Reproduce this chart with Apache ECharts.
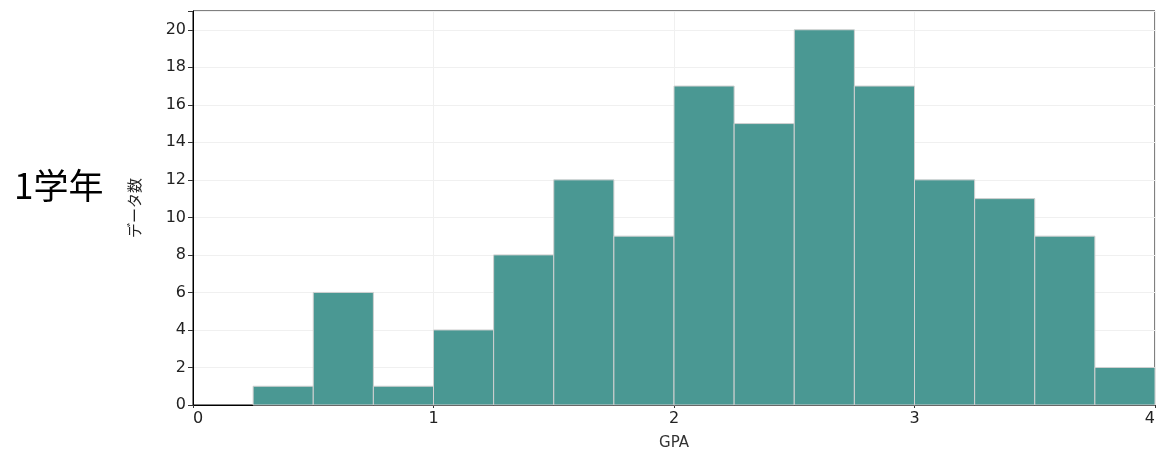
<!DOCTYPE html>
<html>
<head>
<meta charset="utf-8">
<script src="https://cdn.jsdelivr.net/npm/echarts@6/dist/echarts.min.js"></script>
<style>html,body{margin:0;padding:0;background:#fff;}#c{width:1158px;height:453px;}</style>
</head>
<body>
<div id="c"></div>
<script>
const binStarts = [0.25, 0.5, 0.75, 1.0, 1.25, 1.5, 1.75, 2.0, 2.25, 2.5, 2.75, 3.0, 3.25, 3.5, 3.75];
const binWidth = 0.25;
const counts = [1, 6, 1, 4, 8, 12, 9, 17, 15, 20, 17, 12, 11, 9, 2];
const panelLabel = '1学年';
const xName = 'GPA';
const yName = 'データ数';

const data = binStarts.map((s, i) => [s, s + binWidth, counts[i]]);
const chart = echarts.init(document.getElementById('c'), null, {renderer: 'canvas'});
const labelFont = 'DejaVu Sans';
chart.setOption({
  animation: false,
  backgroundColor: '#fff',
  title: {
    text: panelLabel, left: 9, top: 163,
    textStyle: {fontSize: 35, fontWeight: 'normal', color: '#000', fontFamily: 'Noto Sans CJK JP'}
  },
  grid: {left: 193, right: 3, top: 11, bottom: 48, show: true, borderColor: '#000', borderWidth: 1,
    containLabel: false, outerBoundsMode: 'none'},
  xAxis: {
    type: 'value', min: 0, max: 4, interval: 1,
    name: xName, nameLocation: 'middle', nameGap: 31,
    nameTextStyle: {fontSize: 15, color: '#333', fontFamily: labelFont},
    axisLine: {show: true, onZero: false, lineStyle: {color: '#000', width: 1}},
    axisTick: {show: true, length: 3, lineStyle: {color: '#333'}},
    axisLabel: {margin: 6, fontSize: 16, color: '#222', fontFamily: labelFont, alignMinLabel: 'left', alignMaxLabel: 'right'},
    splitLine: {show: true, lineStyle: {color: '#f0f0f0', width: 1}}
  },
  yAxis: {
    type: 'value', min: 0, max: 21, interval: 2,
    name: yName, nameLocation: 'middle', nameGap: 51,
    nameTextStyle: {fontSize: 15, color: '#222', fontFamily: 'Noto Sans CJK JP'},
    axisLine: {show: true, lineStyle: {color: '#000', width: 1}},
    axisTick: {show: true, length: 5, lineStyle: {color: '#333'}},
    axisLabel: {margin: 7, fontSize: 16, color: '#222', fontFamily: labelFont,
      formatter: v => (v % 2 === 0 ? String(v) : '')},
    splitLine: {show: true, lineStyle: {color: '#f0f0f0', width: 1}}
  },
  series: [{
    type: 'custom',
    data: data,
    encode: {x: [0, 1], y: 2},
    renderItem: function (params, api) {
      const p0 = api.coord([api.value(0), 0]);
      const p1 = api.coord([api.value(1), api.value(2)]);
      return {
        type: 'rect',
        shape: {x: p0[0], y: p1[1], width: p1[0] - p0[0], height: p0[1] - p1[1]},
        style: {fill: '#4a9893', stroke: '#d0d0d0', lineWidth: 1}
      };
    }
  }]
});
</script>
</body>
</html>
